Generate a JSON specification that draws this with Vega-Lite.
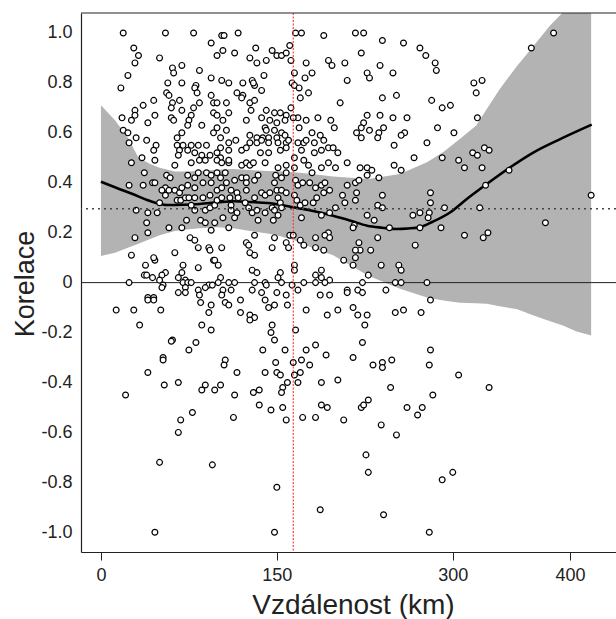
{
"$schema": "https://vega.github.io/schema/vega-lite/v6.json",
"width": 535, "height": 539,
"autosize": {"type": "none"},
"padding": {"left": 81, "top": 13, "right": 0, "bottom": 67},
"background": "white",
"config": {"view": {"stroke": null}, "font": "Liberation Sans"},
"datasets": {
"band": [
{"x":0,"lo":0.107,"hi":0.71},{"x":12,"lo":0.12,"hi":0.65},{"x":23,"lo":0.14,"hi":0.58},{"x":32,"lo":0.156,"hi":0.50},{"x":42,"lo":0.175,"hi":0.475},{"x":50,"lo":0.19,"hi":0.46},{"x":63,"lo":0.207,"hi":0.445},{"x":73,"lo":0.213,"hi":0.445},{"x":84,"lo":0.218,"hi":0.447},{"x":99,"lo":0.222,"hi":0.452},{"x":113,"lo":0.218,"hi":0.455},{"x":130,"lo":0.205,"hi":0.45},{"x":142,"lo":0.197,"hi":0.447},{"x":150,"lo":0.19,"hi":0.446},{"x":165,"lo":0.17,"hi":0.442},{"x":180,"lo":0.14,"hi":0.435},{"x":198,"lo":0.11,"hi":0.425},{"x":228,"lo":0.028,"hi":0.415},{"x":255,"lo":-0.025,"hi":0.435},{"x":278,"lo":-0.06,"hi":0.482},{"x":292,"lo":-0.072,"hi":0.523},{"x":306,"lo":-0.081,"hi":0.575},{"x":320,"lo":-0.083,"hi":0.629},{"x":329,"lo":-0.085,"hi":0.695},{"x":340,"lo":-0.095,"hi":0.775},{"x":355,"lo":-0.107,"hi":0.869},{"x":369,"lo":-0.132,"hi":0.949},{"x":383,"lo":-0.155,"hi":1.03},{"x":394,"lo":-0.172,"hi":1.083},{"x":405,"lo":-0.195,"hi":1.14},{"x":418,"lo":-0.212,"hi":1.2}
],
"smooth": [
{"x":0,"y":0.404},{"x":13,"y":0.38},{"x":27,"y":0.355},{"x":40,"y":0.33},{"x":47,"y":0.319},{"x":56,"y":0.311},{"x":70,"y":0.312},{"x":84,"y":0.315},{"x":100,"y":0.322},{"x":113,"y":0.326},{"x":128,"y":0.323},{"x":142,"y":0.319},{"x":155,"y":0.31},{"x":164,"y":0.302},{"x":178,"y":0.29},{"x":198,"y":0.268},{"x":213,"y":0.248},{"x":227,"y":0.228},{"x":240,"y":0.22},{"x":252,"y":0.215},{"x":262,"y":0.217},{"x":272,"y":0.222},{"x":283,"y":0.244},{"x":298,"y":0.282},{"x":312,"y":0.335},{"x":329,"y":0.395},{"x":349,"y":0.462},{"x":369,"y":0.522},{"x":392,"y":0.576},{"x":418.5,"y":0.633}
],
"pts": [
{"x":19,"y":1.0},{"x":55,"y":1.0},{"x":79,"y":1.0},{"x":94,"y":0.96},{"x":28,"y":0.94},{"x":32,"y":0.91},{"x":29,"y":0.88},{"x":50,"y":0.90},{"x":61,"y":0.86},{"x":69,"y":0.87},{"x":62,"y":0.84},{"x":23,"y":0.83},{"x":84,"y":0.85},{"x":94,"y":0.82},{"x":17,"y":0.78},{"x":57,"y":0.80},{"x":69,"y":0.80},{"x":81,"y":0.79},{"x":80,"y":0.78},{"x":56,"y":0.76},{"x":58,"y":0.75},{"x":82,"y":0.76},{"x":94,"y":0.75},{"x":45,"y":0.73},{"x":61,"y":0.72},{"x":67,"y":0.73},{"x":84,"y":0.72},{"x":36,"y":0.71},{"x":29,"y":0.69},{"x":60,"y":0.70},{"x":79,"y":0.70},{"x":96,"y":0.72},{"x":69,"y":0.69},{"x":18,"y":0.66},{"x":26,"y":0.65},{"x":29,"y":0.67},{"x":40,"y":0.64},{"x":46,"y":0.67},{"x":60,"y":0.66},{"x":62,"y":0.65},{"x":77,"y":0.67},{"x":75,"y":0.65},{"x":86,"y":0.63},{"x":96,"y":0.68},{"x":19,"y":0.61},{"x":23,"y":0.60},{"x":74,"y":0.63},{"x":69,"y":0.60},{"x":65,"y":0.58},{"x":24,"y":0.56},{"x":30,"y":0.58},{"x":39,"y":0.57},{"x":47,"y":0.55},{"x":45,"y":0.53},{"x":35,"y":0.50},{"x":65,"y":0.55},{"x":70,"y":0.55},{"x":77,"y":0.55},{"x":83,"y":0.55},{"x":90,"y":0.55},{"x":67,"y":0.53},{"x":74,"y":0.53},{"x":80,"y":0.52},{"x":86,"y":0.51},{"x":93,"y":0.51},{"x":66,"y":0.51},{"x":96,"y":0.60},
{"x":103,"y":0.99},{"x":105,"y":0.99},{"x":117,"y":1.0},{"x":166,"y":1.0},{"x":171,"y":1.0},{"x":190,"y":0.99},{"x":104,"y":0.93},{"x":114,"y":0.92},{"x":132,"y":0.94},{"x":127,"y":0.90},{"x":133,"y":0.88},{"x":141,"y":0.89},{"x":146,"y":0.93},{"x":150,"y":0.91},{"x":154,"y":0.91},{"x":158,"y":0.92},{"x":161,"y":0.95},{"x":162,"y":0.89},{"x":99,"y":0.91},{"x":194,"y":0.89},{"x":197,"y":0.87},{"x":175,"y":0.88},{"x":165,"y":0.84},{"x":174,"y":0.82},{"x":180,"y":0.84},{"x":139,"y":0.83},{"x":103,"y":0.81},{"x":109,"y":0.80},{"x":121,"y":0.80},{"x":129,"y":0.81},{"x":131,"y":0.79},{"x":130,"y":0.80},{"x":163,"y":0.80},{"x":165,"y":0.79},{"x":169,"y":0.78},{"x":177,"y":0.76},{"x":170,"y":0.74},{"x":116,"y":0.76},{"x":121,"y":0.75},{"x":120,"y":0.74},{"x":137,"y":0.77},{"x":127,"y":0.72},{"x":131,"y":0.73},{"x":99,"y":0.72},{"x":107,"y":0.72},{"x":128,"y":0.69},{"x":109,"y":0.68},{"x":141,"y":0.69},{"x":148,"y":0.68},{"x":153,"y":0.68},{"x":158,"y":0.67},{"x":162,"y":0.70},{"x":168,"y":0.66},{"x":164,"y":0.66},{"x":185,"y":0.66},{"x":99,"y":0.67},{"x":104,"y":0.65},{"x":124,"y":0.65},{"x":137,"y":0.66},{"x":144,"y":0.65},{"x":150,"y":0.64},{"x":157,"y":0.65},{"x":175,"y":0.65},{"x":196,"y":0.65},{"x":199,"y":0.62},{"x":107,"y":0.61},{"x":99,"y":0.62},{"x":140,"y":0.62},{"x":141,"y":0.61},{"x":148,"y":0.61},{"x":154,"y":0.60},{"x":169,"y":0.62},{"x":102,"y":0.58},{"x":127,"y":0.59},{"x":133,"y":0.58},{"x":138,"y":0.58},{"x":143,"y":0.58},{"x":150,"y":0.58},{"x":157,"y":0.59},{"x":180,"y":0.60},{"x":187,"y":0.59},{"x":190,"y":0.57},{"x":109,"y":0.56},{"x":115,"y":0.57},{"x":102,"y":0.54},{"x":127,"y":0.56},{"x":133,"y":0.56},{"x":137,"y":0.57},{"x":143,"y":0.56},{"x":151,"y":0.56},{"x":158,"y":0.56},{"x":160,"y":0.57},{"x":168,"y":0.56},{"x":173,"y":0.56},{"x":175,"y":0.57},{"x":182,"y":0.56},{"x":194,"y":0.54},{"x":198,"y":0.54},{"x":109,"y":0.53},{"x":120,"y":0.53},{"x":124,"y":0.54},{"x":136,"y":0.52},{"x":143,"y":0.52},{"x":153,"y":0.53},{"x":158,"y":0.54},{"x":171,"y":0.53},{"x":182,"y":0.52},{"x":188,"y":0.53},{"x":99,"y":0.52},{"x":102,"y":0.50},{"x":165,"y":0.50},
{"x":26,"y":0.48},{"x":46,"y":0.49},{"x":63,"y":0.47},{"x":77,"y":0.48},{"x":84,"y":0.49},{"x":89,"y":0.49},{"x":37,"y":0.44},{"x":56,"y":0.43},{"x":59,"y":0.42},{"x":74,"y":0.43},{"x":80,"y":0.42},{"x":83,"y":0.44},{"x":90,"y":0.44},{"x":94,"y":0.43},{"x":24,"y":0.39},{"x":36,"y":0.39},{"x":44,"y":0.40},{"x":46,"y":0.40},{"x":55,"y":0.38},{"x":58,"y":0.37},{"x":63,"y":0.37},{"x":67,"y":0.36},{"x":69,"y":0.38},{"x":74,"y":0.39},{"x":80,"y":0.38},{"x":87,"y":0.40},{"x":94,"y":0.40},{"x":52,"y":0.37},{"x":55,"y":0.35},{"x":65,"y":0.33},{"x":68,"y":0.33},{"x":72,"y":0.34},{"x":75,"y":0.34},{"x":80,"y":0.34},{"x":50,"y":0.32},{"x":87,"y":0.34},{"x":93,"y":0.35},{"x":77,"y":0.31},{"x":80,"y":0.29},{"x":89,"y":0.29},{"x":93,"y":0.30},{"x":97,"y":0.31},{"x":30,"y":0.29},{"x":40,"y":0.28},{"x":48,"y":0.28},{"x":73,"y":0.25},{"x":85,"y":0.25},{"x":89,"y":0.24},{"x":39,"y":0.24},{"x":69,"y":0.22},{"x":58,"y":0.22},{"x":40,"y":0.20},{"x":94,"y":0.21},{"x":29,"y":0.18},{"x":76,"y":0.18},{"x":80,"y":0.17},{"x":83,"y":0.14},{"x":92,"y":0.14},{"x":93,"y":0.13},{"x":63,"y":0.12},{"x":26,"y":0.11},{"x":46,"y":0.09},{"x":45,"y":0.10},{"x":96,"y":0.09},{"x":38,"y":0.07},{"x":70,"y":0.07},{"x":83,"y":0.06},{"x":55,"y":0.04},{"x":52,"y":0.03},{"x":37,"y":0.03},{"x":39,"y":0.03},{"x":69,"y":0.04},{"x":66,"y":0.02},{"x":72,"y":0.01},{"x":44,"y":0.02},{"x":24,"y":0.0},{"x":50,"y":0.01},{"x":53,"y":-0.01},{"x":52,"y":-0.02},{"x":70,"y":0.0},{"x":74,"y":0.0},{"x":77,"y":0.0},{"x":72,"y":-0.02},{"x":92,"y":-0.01},{"x":95,"y":-0.01},{"x":89,"y":-0.02},{"x":83,"y":-0.03},{"x":84,"y":-0.05},{"x":66,"y":-0.04},{"x":72,"y":-0.04},{"x":40,"y":-0.06},{"x":45,"y":-0.06},
{"x":99,"y":0.49},{"x":103,"y":0.48},{"x":109,"y":0.48},{"x":109,"y":0.49},{"x":120,"y":0.47},{"x":124,"y":0.48},{"x":127,"y":0.47},{"x":130,"y":0.48},{"x":140,"y":0.48},{"x":151,"y":0.46},{"x":158,"y":0.47},{"x":165,"y":0.46},{"x":173,"y":0.49},{"x":177,"y":0.47},{"x":180,"y":0.44},{"x":188,"y":0.46},{"x":194,"y":0.48},{"x":99,"y":0.44},{"x":106,"y":0.44},{"x":102,"y":0.42},{"x":107,"y":0.40},{"x":114,"y":0.41},{"x":120,"y":0.42},{"x":124,"y":0.42},{"x":124,"y":0.40},{"x":131,"y":0.41},{"x":134,"y":0.43},{"x":149,"y":0.43},{"x":154,"y":0.42},{"x":158,"y":0.44},{"x":148,"y":0.40},{"x":166,"y":0.41},{"x":168,"y":0.39},{"x":172,"y":0.40},{"x":178,"y":0.40},{"x":183,"y":0.38},{"x":188,"y":0.39},{"x":191,"y":0.40},{"x":195,"y":0.37},{"x":99,"y":0.37},{"x":103,"y":0.38},{"x":111,"y":0.37},{"x":116,"y":0.36},{"x":117,"y":0.34},{"x":124,"y":0.37},{"x":131,"y":0.34},{"x":137,"y":0.36},{"x":140,"y":0.35},{"x":144,"y":0.36},{"x":150,"y":0.37},{"x":154,"y":0.37},{"x":158,"y":0.36},{"x":151,"y":0.34},{"x":165,"y":0.35},{"x":167,"y":0.33},{"x":170,"y":0.31},{"x":174,"y":0.32},{"x":181,"y":0.32},{"x":190,"y":0.36},{"x":184,"y":0.34},{"x":99,"y":0.33},{"x":103,"y":0.34},{"x":110,"y":0.34},{"x":111,"y":0.31},{"x":111,"y":0.29},{"x":116,"y":0.28},{"x":114,"y":0.26},{"x":123,"y":0.32},{"x":126,"y":0.30},{"x":129,"y":0.28},{"x":133,"y":0.29},{"x":140,"y":0.28},{"x":146,"y":0.30},{"x":148,"y":0.29},{"x":153,"y":0.32},{"x":154,"y":0.30},{"x":104,"y":0.26},{"x":134,"y":0.25},{"x":147,"y":0.25},{"x":151,"y":0.27},{"x":171,"y":0.26},{"x":188,"y":0.27},{"x":195,"y":0.28},{"x":97,"y":0.24},{"x":109,"y":0.22},{"x":194,"y":0.20},{"x":183,"y":0.18},{"x":191,"y":0.19},{"x":195,"y":0.18},{"x":148,"y":0.18},{"x":124,"y":0.16},{"x":131,"y":0.19},{"x":161,"y":0.19},{"x":164,"y":0.19},{"x":158,"y":0.16},{"x":160,"y":0.14},{"x":170,"y":0.17},{"x":173,"y":0.15},{"x":183,"y":0.14},{"x":103,"y":0.14},{"x":126,"y":0.15},{"x":127,"y":0.12},{"x":131,"y":0.11},{"x":146,"y":0.14},{"x":190,"y":0.13},{"x":97,"y":0.09},{"x":100,"y":0.07},{"x":165,"y":0.07},{"x":165,"y":0.05},{"x":129,"y":0.05},{"x":133,"y":0.04},{"x":153,"y":0.04},{"x":183,"y":0.03},{"x":188,"y":0.05},{"x":102,"y":0.02},{"x":100,"y":0.0},{"x":109,"y":0.0},{"x":114,"y":0.0},{"x":131,"y":0.0},{"x":140,"y":0.0},{"x":141,"y":-0.01},{"x":151,"y":0.02},{"x":154,"y":0.0},{"x":163,"y":-0.01},{"x":173,"y":0.0},{"x":183,"y":0.0},{"x":188,"y":0.02},{"x":195,"y":0.01},{"x":191,"y":0.0},{"x":104,"y":-0.03},{"x":111,"y":-0.03},{"x":103,"y":-0.05},{"x":129,"y":-0.03},{"x":137,"y":-0.04},{"x":150,"y":-0.04},{"x":158,"y":-0.05},{"x":168,"y":-0.03},{"x":187,"y":-0.05},{"x":195,"y":-0.05},
{"x":40,"y":-0.07},{"x":45,"y":-0.07},{"x":85,"y":-0.08},{"x":94,"y":-0.09},{"x":92,"y":-0.12},{"x":106,"y":-0.08},{"x":109,"y":-0.09},{"x":119,"y":-0.07},{"x":140,"y":-0.07},{"x":143,"y":-0.10},{"x":148,"y":-0.09},{"x":159,"y":-0.09},{"x":175,"y":-0.11},{"x":193,"y":-0.13},{"x":13,"y":-0.11},{"x":28,"y":-0.11},{"x":51,"y":-0.11},{"x":119,"y":-0.12},{"x":127,"y":-0.13},{"x":131,"y":-0.14},{"x":127,"y":-0.15},{"x":33,"y":-0.17},{"x":86,"y":-0.17},{"x":94,"y":-0.19},{"x":146,"y":-0.17},{"x":145,"y":-0.20},{"x":148,"y":-0.23},{"x":166,"y":-0.19},{"x":61,"y":-0.23},{"x":60,"y":-0.235},{"x":81,"y":-0.24},{"x":75,"y":-0.27},{"x":138,"y":-0.27},{"x":157,"y":-0.27},{"x":175,"y":-0.27},{"x":183,"y":-0.25},{"x":192,"y":-0.29},{"x":53,"y":-0.30},{"x":53,"y":-0.31},{"x":106,"y":-0.31},{"x":105,"y":-0.33},{"x":149,"y":-0.32},{"x":164,"y":-0.32},{"x":171,"y":-0.31},{"x":178,"y":-0.33},{"x":40,"y":-0.36},{"x":116,"y":-0.36},{"x":140,"y":-0.36},{"x":150,"y":-0.36},{"x":153,"y":-0.37},{"x":165,"y":-0.37},{"x":170,"y":-0.36},{"x":188,"y":-0.40},{"x":54,"y":-0.41},{"x":66,"y":-0.40},{"x":89,"y":-0.41},{"x":86,"y":-0.43},{"x":97,"y":-0.43},{"x":102,"y":-0.41},{"x":159,"y":-0.40},{"x":155,"y":-0.42},{"x":154,"y":-0.44},{"x":168,"y":-0.40},{"x":130,"y":-0.44},{"x":135,"y":-0.43},{"x":114,"y":-0.45},{"x":21,"y":-0.45},
{"x":78,"y":-0.52},{"x":68,"y":-0.55},{"x":66,"y":-0.60},{"x":135,"y":-0.49},{"x":145,"y":-0.51},{"x":155,"y":-0.50},{"x":113,"y":-0.54},{"x":158,"y":-0.55},{"x":172,"y":-0.54},{"x":50,"y":-0.72},{"x":95,"y":-0.73},{"x":150,"y":-0.82},{"x":46,"y":-1.0},{"x":148,"y":-1.0},
{"x":202,"y":-0.11},{"x":215,"y":-0.10},{"x":219,"y":-0.13},{"x":227,"y":-0.13},{"x":225,"y":-0.17},{"x":251,"y":-0.12},{"x":258,"y":-0.11},{"x":273,"y":-0.12},{"x":281,"y":-0.07},{"x":223,"y":-0.24},{"x":215,"y":-0.30},{"x":202,"y":-0.39},{"x":232,"y":-0.33},{"x":240,"y":-0.32},{"x":240,"y":-0.34},{"x":248,"y":-0.31},{"x":247,"y":-0.42},{"x":281,"y":-0.27},{"x":280,"y":-0.33},{"x":283,"y":-0.45},{"x":305,"y":-0.37},{"x":331,"y":-0.42},{"x":188,"y":-0.49},{"x":193,"y":-0.50},{"x":183,"y":-0.54},{"x":207,"y":-0.55},{"x":222,"y":-0.50},{"x":224,"y":-0.49},{"x":228,"y":-0.47},{"x":239,"y":-0.57},{"x":252,"y":-0.61},{"x":261,"y":-0.50},{"x":270,"y":-0.53},{"x":274,"y":-0.50},{"x":226,"y":-0.69},{"x":228,"y":-0.76},{"x":291,"y":-0.79},{"x":300,"y":-0.76},{"x":187,"y":-0.91},{"x":241,"y":-0.93},{"x":280,"y":-1.0},
{"x":217,"y":1.0},{"x":224,"y":1.0},{"x":240,"y":0.97},{"x":258,"y":0.96},{"x":272,"y":0.94},{"x":277,"y":0.91},{"x":285,"y":0.88},{"x":286,"y":0.85},{"x":222,"y":0.92},{"x":367,"y":0.94},{"x":386,"y":1.0},{"x":208,"y":0.88},{"x":238,"y":0.87},{"x":249,"y":0.84},{"x":227,"y":0.84},{"x":229,"y":0.82},{"x":210,"y":0.81},{"x":318,"y":0.80},{"x":325,"y":0.81},{"x":320,"y":0.76},{"x":240,"y":0.74},{"x":252,"y":0.75},{"x":204,"y":0.72},{"x":282,"y":0.73},{"x":291,"y":0.70},{"x":298,"y":0.71},{"x":321,"y":0.66},{"x":227,"y":0.67},{"x":224,"y":0.64},{"x":222,"y":0.62},{"x":218,"y":0.60},{"x":222,"y":0.58},{"x":238,"y":0.67},{"x":241,"y":0.62},{"x":237,"y":0.60},{"x":236,"y":0.58},{"x":229,"y":0.61},{"x":249,"y":0.66},{"x":261,"y":0.66},{"x":259,"y":0.60},{"x":256,"y":0.59},{"x":287,"y":0.62},{"x":301,"y":0.60},{"x":278,"y":0.56},{"x":250,"y":0.55},{"x":202,"y":0.52},{"x":210,"y":0.48},{"x":200,"y":0.46},{"x":267,"y":0.50},{"x":291,"y":0.50},{"x":250,"y":0.47},{"x":256,"y":0.45},{"x":221,"y":0.46},{"x":227,"y":0.46},{"x":231,"y":0.45},{"x":227,"y":0.43},{"x":237,"y":0.42},{"x":305,"y":0.49},{"x":310,"y":0.46},{"x":317,"y":0.52},{"x":321,"y":0.51},{"x":327,"y":0.54},{"x":331,"y":0.53},{"x":325,"y":0.46},{"x":348,"y":0.45},{"x":328,"y":0.39},{"x":281,"y":0.36},{"x":281,"y":0.32},{"x":293,"y":0.30},{"x":323,"y":0.30},{"x":240,"y":0.35},{"x":217,"y":0.40},{"x":220,"y":0.41},{"x":218,"y":0.36},{"x":217,"y":0.33},{"x":210,"y":0.39},{"x":206,"y":0.35},{"x":208,"y":0.32},{"x":200,"y":0.30},{"x":236,"y":0.31},{"x":240,"y":0.30},{"x":227,"y":0.27},{"x":233,"y":0.25},{"x":216,"y":0.23},{"x":215,"y":0.22},{"x":246,"y":0.22},{"x":266,"y":0.27},{"x":272,"y":0.28},{"x":280,"y":0.28},{"x":279,"y":0.26},{"x":272,"y":0.22},{"x":290,"y":0.22},{"x":310,"y":0.19},{"x":326,"y":0.18},{"x":330,"y":0.20},{"x":379,"y":0.24},{"x":418,"y":0.35},{"x":236,"y":0.18},{"x":220,"y":0.16},{"x":221,"y":0.13},{"x":217,"y":0.13},{"x":217,"y":0.10},{"x":215,"y":0.07},{"x":230,"y":0.13},{"x":207,"y":0.09},{"x":228,"y":0.03},{"x":239,"y":0.07},{"x":254,"y":0.07},{"x":256,"y":0.05},{"x":268,"y":0.15},{"x":223,"y":0.0},{"x":219,"y":-0.03},{"x":223,"y":-0.04},{"x":210,"y":-0.03},{"x":210,"y":-0.04},{"x":251,"y":0.0},{"x":256,"y":0.0},{"x":278,"y":0.0},{"x":243,"y":-0.03}
]
},
"layer": [
{
"data": {"name": "band"},
"mark": {"type": "area", "color": "#b3b3b3", "opacity": 1, "clip": true},
"encoding": {
"x": {"field": "x", "type": "quantitative",
"scale": {"domain": [-17, 439.2], "nice": false, "zero": false},
"axis": {"values": [0, 150, 300, 400], "title": "Vzdálenost (km)", "grid": false,
"domainColor": "#222", "domainWidth": 1.2, "tickColor": "#222", "tickSize": 8, "tickWidth": 1,
"labelFontSize": 18, "labelColor": "#222", "labelPadding": 6, "labelFlush": false,
"titleFontSize": 28, "titleFontWeight": "normal", "titleColor": "#222",
"titleX": 272, "titleY": 61, "titleBaseline": "alphabetic", "titleAlign": "center"}},
"y": {"field": "lo", "type": "quantitative",
"scale": {"domain": [-1.079, 1.08], "nice": false, "zero": false},
"axis": {"values": [-1, -0.8, -0.6, -0.4, -0.2, 0, 0.2, 0.4, 0.6, 0.8, 1],
"labelExpr": "datum.value == 0 ? '0' : (datum.value < 0 ? '-' : '') + format(abs(datum.value), '.1f')",
"ticks": false, "tickSize": 0, "labelPadding": 9, "grid": false, "labelFlush": false,
"domainColor": "#222", "domainWidth": 1.2,
"labelFontSize": 18, "labelColor": "#222",
"title": "Korelace", "titleFontSize": 27, "titleFontWeight": "normal", "titleColor": "#222",
"titleAngle": -90, "titleX": -48, "titleY": 270.5, "titleAlign": "center", "titleBaseline": "alphabetic"}},
"y2": {"field": "hi"}
}
},
{
"data": {"values": [{}]},
"mark": {"type": "rule", "color": "#222", "strokeWidth": 1},
"encoding": {"y": {"datum": 0}}
},
{
"data": {"name": "smooth"},
"mark": {"type": "line", "color": "#000", "strokeWidth": 2.6, "interpolate": "monotone"},
"encoding": {"x": {"field": "x", "type": "quantitative"}, "y": {"field": "y", "type": "quantitative"}}
},
{
"data": {"name": "pts"},
"mark": {"type": "circle", "fill": "white", "stroke": "black", "strokeWidth": 1.2, "size": 34, "opacity": 1},
"encoding": {"x": {"field": "x", "type": "quantitative"}, "y": {"field": "y", "type": "quantitative"}}
},
{
"data": {"values": [{}]},
"mark": {"type": "rule", "color": "#444", "strokeWidth": 1.3, "strokeDash": [2, 4]},
"encoding": {"y": {"datum": 0.296}}
},
{
"data": {"values": [{}]},
"mark": {"type": "rule", "color": "#ff3030", "strokeWidth": 1.1, "strokeDash": [2, 1.5]},
"encoding": {"x": {"datum": 164}}
},
{
"data": {"values": [{}]},
"mark": {"type": "rule", "color": "#222", "strokeWidth": 1.2},
"encoding": {"y": {"datum": 1.08}}
}
]
}
